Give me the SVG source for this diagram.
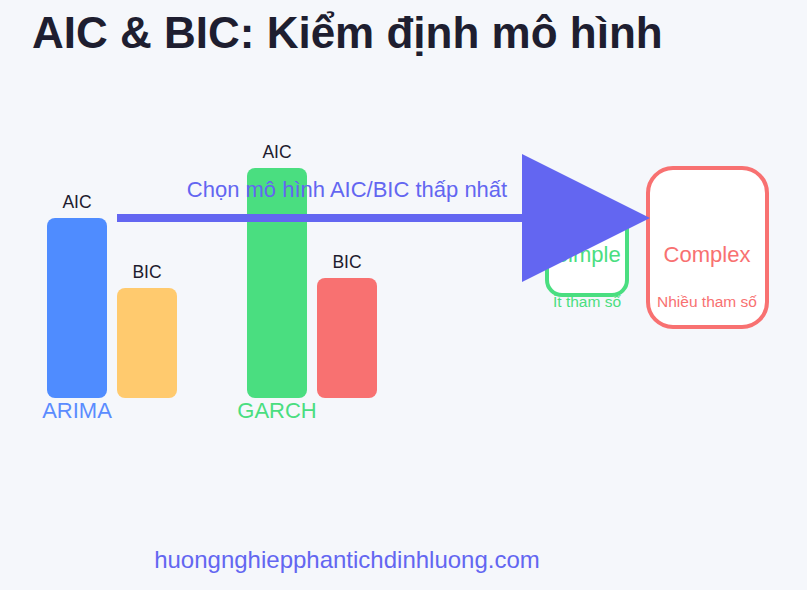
<svg xmlns="http://www.w3.org/2000/svg" width="807" height="590" viewBox="0 0 807 590">
<defs>
<style>
text{font-family:"Liberation Sans",Arial,sans-serif}
.lbl{font-size:17.5px;fill:#1e1b2e;text-anchor:middle}
.grp{font-size:22px;text-anchor:middle}
.box{fill:#ffffff;stroke-width:4}
</style>
<marker id="arr" viewBox="0 0 16 16" refX="0" refY="8" markerWidth="16" markerHeight="16" markerUnits="strokeWidth" orient="auto">
<path d="M0,0 L16,8 L0,16 Z" fill="#6366f1"/>
</marker>
</defs>
<rect width="807" height="590" fill="#f5f7fb"/>
<text x="32" y="48" font-size="44" font-weight="bold" fill="#1e1e30">AIC &amp; BIC: Kiểm định mô hình</text>
<g id="arima">
<rect x="47" y="218" width="60" height="180" rx="8" fill="#4f8cff"/>
<text class="lbl" x="77" y="208">AIC</text>
<rect x="117" y="288" width="60" height="110" rx="8" fill="#ffca6e"/>
<text class="lbl" x="147" y="278">BIC</text>
<text class="grp" x="77" y="418" fill="#5b8cff">ARIMA</text>
</g>
<g id="garch">
<rect x="247" y="168" width="60" height="230" rx="8" fill="#4ade80"/>
<text class="lbl" x="277" y="158">AIC</text>
<rect x="317" y="278" width="60" height="120" rx="8" fill="#f87171"/>
<text class="lbl" x="347" y="268">BIC</text>
<text class="grp" x="277" y="418" fill="#4ade80">GARCH</text>
</g>
<g id="simple">
<rect class="box" x="547" y="205" width="80" height="90" rx="15" stroke="#4ade80"/>
<text x="587" y="262" font-size="22" text-anchor="middle" fill="#4ade80">Simple</text>
<text x="587" y="307" font-size="15.5" text-anchor="middle" fill="#4ade80">Ít tham số</text>
</g>
<g id="complex">
<rect class="box" x="648" y="168" width="119" height="159" rx="25" stroke="#f87171"/>
<text x="707" y="262" font-size="22" text-anchor="middle" fill="#f87171">Complex</text>
<text x="707" y="307" font-size="15.5" text-anchor="middle" fill="#f87171">Nhiều tham số</text>
</g>
<g id="connectors">
<line x1="117" y1="218" x2="522" y2="218" stroke="#6366f1" stroke-width="8" marker-end="url(#arr)"/>
<text x="347" y="197" font-size="22" text-anchor="middle" fill="#6366f1">Chọn mô hình AIC/BIC thấp nhất</text>
</g>
<text x="347" y="568" font-size="24" text-anchor="middle" fill="#6366f1">huongnghiepphantichdinhluong.com</text>
</svg>
